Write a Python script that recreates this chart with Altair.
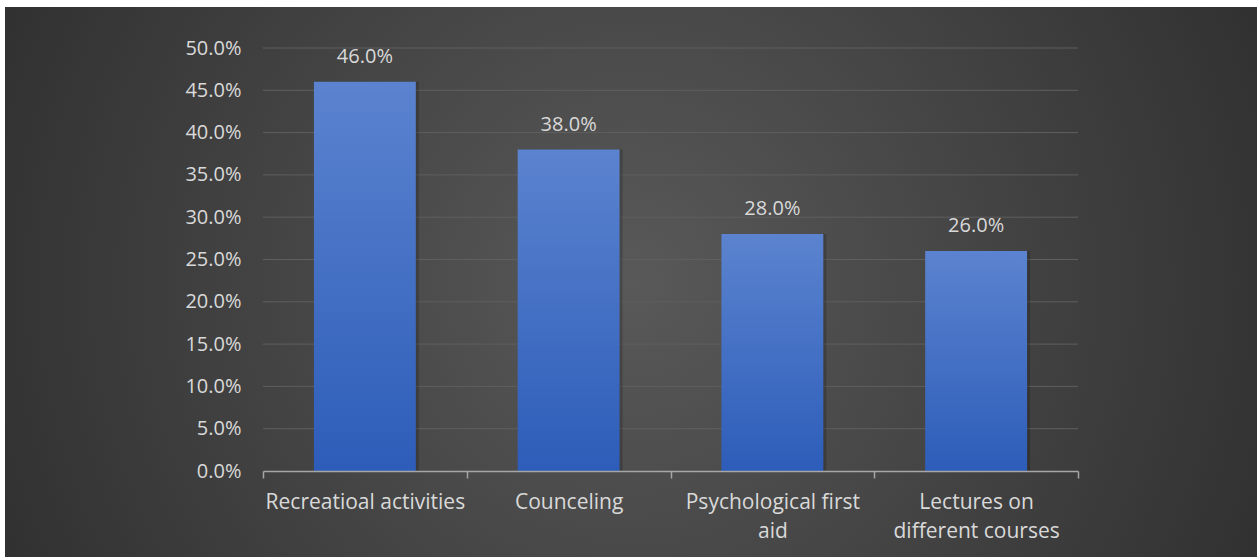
import altair as alt
import pandas as pd

categories = ["Recreatioal activities", "Counceling", "Psychological first aid", "Lectures on different courses"]
values = [0.46, 0.38, 0.28, 0.26]
wrapped = {
    "Psychological first aid": ["Psychological first", "aid"],
    "Lectures on different courses": ["Lectures on", "different courses"],
}
y_ticks = [0.0, 0.05, 0.10, 0.15, 0.20, 0.25, 0.30, 0.35, 0.40, 0.45, 0.50]

df = pd.DataFrame({"category": categories, "value": values})
grid_df = pd.DataFrame({"value": y_ticks[1:]})

FONT = "Open Sans"
TXT = "#d9d9d9"

label_expr = "datum.value"
for k, v in wrapped.items():
    arr = "[" + ",".join("'" + s + "'" for s in v) + "]"
    label_expr = f"datum.value == '{k}' ? {arr} : ({label_expr})"

yscale = alt.Scale(domain=[0, 0.5])
xscale = alt.Scale(paddingInner=0, paddingOuter=0)

x_axis = alt.Axis(
    title=None,
    labelAngle=0,
    labelFont=FONT,
    labelFontSize=21,
    labelColor=TXT,
    labelLineHeight=29,
    labelPadding=13,
    labelExpr=label_expr,
    labelLimit=400,
    domain=True,
    domainColor="#a6a6a6",
    domainWidth=1.5,
    ticks=True,
    tickColor="#a6a6a6",
    tickWidth=1.5,
    tickSize=7,
    tickBand="extent",
    grid=False,
    zindex=1,
)

y_axis = alt.Axis(
    title=None,
    values=y_ticks,
    format=".1%",
    labelFont=FONT,
    labelFontSize=20,
    labelColor=TXT,
    labelPadding=22,
    domain=False,
    ticks=False,
    grid=False,
    zindex=1,
)

x_enc = alt.X("category:N", sort=categories, scale=xscale, axis=x_axis)
y_enc = alt.Y("value:Q", scale=yscale, axis=y_axis)

bg = alt.Chart(alt.Data(values=[{}])).mark_rect(
    fill={
        "gradient": "radial",
        "x1": 0.5, "y1": 0.5, "r1": 0,
        "x2": 0.5, "y2": 0.5, "r2": 0.72,
        "stops": [
            {"offset": 0, "color": "#595959"},
            {"offset": 1, "color": "#242424"},
        ],
    }
).encode(
    x=alt.value(-258), x2=alt.value(994), y=alt.value(-41), y2=alt.value(509)
)

grid = alt.Chart(grid_df).mark_rule(color="#5f5f5f", strokeWidth=1).encode(y=y_enc)

shadow = alt.Chart(df).mark_bar(
    color="black", opacity=0.18, xOffset=3, width=alt.RelativeBandSize(0.5)
).encode(x=x_enc, y=y_enc)

bars = alt.Chart(df).mark_bar(
    width=alt.RelativeBandSize(0.5),
    fill={
        "gradient": "linear",
        "x1": 0, "y1": 0, "x2": 0, "y2": 1,
        "stops": [
            {"offset": 0, "color": "#5b83cf"},
            {"offset": 1, "color": "#2d5db9"},
        ],
    },
).encode(x=x_enc, y=y_enc)

labels = alt.Chart(df).mark_text(
    font=FONT, fontSize=20, color=TXT, baseline="alphabetic", dy=-19
).encode(
    x=x_enc,
    y=y_enc,
    text=alt.Text("value:Q", format=".1%"),
)

chart = alt.layer(bg, grid, shadow, bars, labels).properties(
    width=815,
    height=423,
    padding={"left": 263, "top": 48, "right": 179, "bottom": 86},
    autosize=alt.AutoSizeParams(type="none"),
    background="white",
).configure_view(stroke=None)

chart.save("out.html", embed_options={"renderer": "svg", "actions": False})
